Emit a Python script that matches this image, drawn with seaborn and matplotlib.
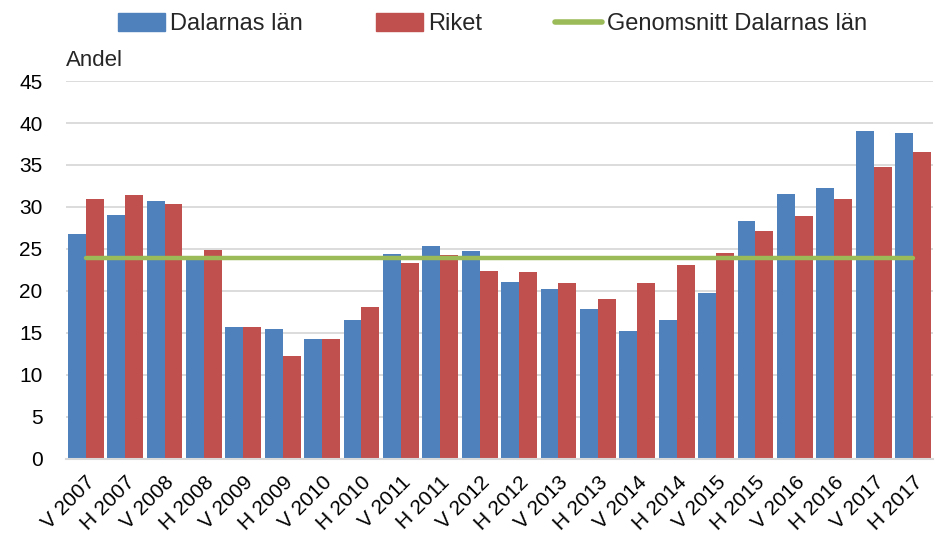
import matplotlib
matplotlib.use("Agg")
import matplotlib.pyplot as plt
import seaborn as sns
import pandas as pd
import numpy as np
from matplotlib.patches import Patch
from matplotlib.lines import Line2D

categories = ["V 2007", "H 2007", "V 2008", "H 2008", "V 2009", "H 2009", "V 2010", "H 2010",
              "V 2011", "H 2011", "V 2012", "H 2012", "V 2013", "H 2013", "V 2014", "H 2014",
              "V 2015", "H 2015", "V 2016", "H 2016", "V 2017", "H 2017"]
dalarnas = [26.8, 29.0, 30.7, 23.7, 15.7, 15.5, 14.3, 16.5, 24.4, 25.4, 24.7, 21.1,
            20.2, 17.8, 15.2, 16.6, 19.8, 28.3, 31.5, 32.3, 39.1, 38.8]
riket = [30.9, 31.4, 30.4, 24.9, 15.7, 12.2, 14.3, 18.1, 23.3, 24.3, 22.4, 22.2,
         20.9, 19.1, 20.9, 23.1, 24.5, 27.1, 28.9, 30.9, 34.8, 36.6]
genomsnitt = [23.9] * len(categories)

series_names = ["Dalarnas län", "Riket", "Genomsnitt Dalarnas län"]
colors = ["#4F81BD", "#C0504D", "#9BBB59"]

df = pd.DataFrame({
    "Period": categories * 2,
    "Andel": dalarnas + riket,
    "Serie": [series_names[0]] * len(categories) + [series_names[1]] * len(categories),
})

sns.set_theme(style="white")
plt.rcParams["font.family"] = ["Liberation Sans", "DejaVu Sans"]

fig = plt.figure(figsize=(9.35, 5.33), dpi=100)
ax = fig.add_axes([0.0706, 0.139, 0.927, 0.709])

sns.barplot(data=df, x="Period", y="Andel", hue="Serie", order=categories,
            hue_order=series_names[:2], palette=colors[:2], width=0.91,
            saturation=1, ax=ax, legend=False, edgecolor="none")
ax.plot(np.arange(len(categories)), genomsnitt, color=colors[2], lw=3.2,
        solid_capstyle="round", zorder=5)

ax.set_xlim(-0.5, len(categories) - 0.5)
ax.set_ylim(0, 45)
ax.set_yticks(np.arange(0, 46, 5))
ax.yaxis.grid(True, color="#D9D9D9", lw=1.3)
ax.set_axisbelow(True)
for s in ["top", "right", "left"]:
    ax.spines[s].set_visible(False)
ax.spines["bottom"].set_color("#D9D9D9")
ax.spines["bottom"].set_linewidth(1.5)
ax.tick_params(axis="both", length=0, labelsize=15, colors="black")
ax.tick_params(axis="y", pad=17)
ax.set_xlabel("")
ax.set_ylabel("")
ax.set_xticks(np.arange(len(categories)))
ax.set_xticklabels(categories, rotation=45, ha="right", rotation_mode="anchor", fontsize=15)
ax.tick_params(axis="x", pad=10)

fig.text(0.0705, 0.867, "Andel", fontsize=16, ha="left", va="bottom")

handles = [Patch(color=colors[0]), Patch(color=colors[1]),
           Line2D([0], [0], color=colors[2], lw=4)]
fig.legend(handles, series_names, loc="upper center", bbox_to_anchor=(0.527, 1.015),
           ncol=3, frameon=False, fontsize=17, handlelength=2.0, handletextpad=0.2,
           columnspacing=3.1, handleheight=0.8)

fig.savefig("out.png", dpi=100)
